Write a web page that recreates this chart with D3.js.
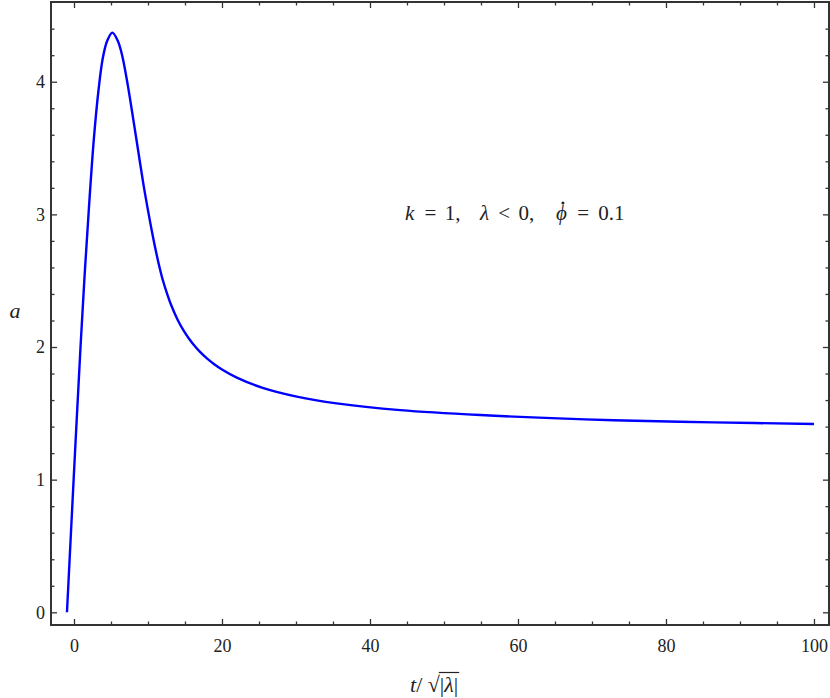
<!DOCTYPE html>
<html>
<head>
<meta charset="utf-8">
<script src="https://cdn.jsdelivr.net/npm/d3@7"></script>
<style>
  html, body { margin: 0; padding: 0; background: #fff; }
  svg { display: block; }
</style>
</head>
<body>
<svg id="chart" width="830" height="698"></svg>
<script>
// ---- data ----
const tValues = [-0.95, -0.05, 0.88, 1.5, 2.1, 2.7, 3.3, 3.9, 4.5, 5.18, 5.9, 6.5, 7.25, 8.0, 8.7, 9.4, 10.0, 10.5, 11.0, 11.5, 12.0, 12.6, 13.1, 14.0, 14.8, 15.5, 16.2, 17.0, 18.0, 19.0, 20.0, 22.0, 25.6, 30.1, 35.5, 44.1, 54.9, 72.9, 86.4, 100];
const aValues = [0, 1.0, 2.0, 2.6, 3.12, 3.58, 3.93, 4.18, 4.31, 4.37, 4.31, 4.2, 3.98, 3.72, 3.47, 3.22, 3.03, 2.88, 2.74, 2.615, 2.505, 2.398, 2.32, 2.206, 2.125, 2.066, 2.015, 1.965, 1.912, 1.868, 1.83, 1.769, 1.69, 1.626, 1.575, 1.524, 1.487, 1.448, 1.432, 1.42];
const xMajorTicks = [0, 20, 40, 60, 80, 100];
const xMinorTicks = [5, 10, 15, 25, 30, 35, 45, 50, 55, 65, 70, 75, 85, 90, 95];
const yMajorTicks = [0, 1, 2, 3, 4];
const yMinorTicks = [0.2, 0.4, 0.6, 0.8, 1.2, 1.4, 1.6, 1.8, 2.2, 2.4, 2.6, 2.8, 3.2, 3.4, 3.6, 3.8, 4.2, 4.4];
const xDomain = [-3.108, 102.03];
const yDomain = [-0.0957, 4.601];

(function () {
const FONT = "'Liberation Serif', 'DejaVu Serif', serif";
const svg = d3.select("#chart");
const pLeft = 51, pRight = 829, pTop = 2, pBottom = 625;

const x = d3.scaleLinear().domain(xDomain).range([pLeft, pRight]);
const y = d3.scaleLinear().domain(yDomain).range([pBottom, pTop]);

const points = tValues.map((t, i) => ({ t, a: aValues[i] }));

const line = d3.line().x(d => x(d.t)).y(d => y(d.a)).curve(d3.curveCatmullRom.alpha(0.5));
svg.append("path")
  .datum(points)
  .attr("d", line)
  .attr("fill", "none")
  .attr("stroke", "#0000ff")
  .attr("stroke-width", 2.4)
  .attr("stroke-linejoin", "round");

function styleAxis(g) {
  g.attr("font-family", FONT).attr("font-size", 18);
  g.select(".domain").remove();
  g.selectAll(".tick line").attr("stroke", "#333").attr("stroke-width", 1.3);
  g.selectAll(".tick text").style("font-family", FONT).style("font-size", "18px").attr("fill", "#222");
}

const majorLen = 6, minorLen = 3.5;

svg.append("g").attr("transform", `translate(0,${pBottom})`)
  .call(d3.axisBottom(x).tickValues(xMajorTicks).tickSize(-majorLen).tickPadding(14).tickFormat(d3.format("d")))
  .call(styleAxis);
svg.append("g").attr("transform", `translate(0,${pBottom})`)
  .call(d3.axisBottom(x).tickValues(xMinorTicks).tickSize(-minorLen).tickFormat(""))
  .call(styleAxis);
svg.append("g").attr("transform", `translate(0,${pTop})`)
  .call(d3.axisTop(x).tickValues(xMajorTicks).tickSize(-majorLen).tickFormat(""))
  .call(styleAxis);
svg.append("g").attr("transform", `translate(0,${pTop})`)
  .call(d3.axisTop(x).tickValues(xMinorTicks).tickSize(-minorLen).tickFormat(""))
  .call(styleAxis);
svg.append("g").attr("transform", `translate(${pLeft},0)`)
  .call(d3.axisLeft(y).tickValues(yMajorTicks).tickSize(-majorLen).tickPadding(6).tickFormat(d3.format("d")))
  .call(styleAxis);
svg.append("g").attr("transform", `translate(${pLeft},0)`)
  .call(d3.axisLeft(y).tickValues(yMinorTicks).tickSize(-minorLen).tickFormat(""))
  .call(styleAxis);
svg.append("g").attr("transform", `translate(${pRight},0)`)
  .call(d3.axisRight(y).tickValues(yMajorTicks).tickSize(-majorLen).tickFormat(""))
  .call(styleAxis);
svg.append("g").attr("transform", `translate(${pRight},0)`)
  .call(d3.axisRight(y).tickValues(yMinorTicks).tickSize(-minorLen).tickFormat(""))
  .call(styleAxis);

svg.append("rect")
  .attr("x", pLeft).attr("y", pTop)
  .attr("width", pRight - pLeft).attr("height", pBottom - pTop)
  .attr("fill", "none").attr("stroke", "#333").attr("stroke-width", 2);

// y label
svg.append("text")
  .attr("x", 15).attr("y", 318)
  .attr("text-anchor", "middle")
  .style("font-family", FONT)
  .style("font-size", "22px").style("font-style", "italic").attr("fill", "#222")
  .text("a");

// x label: t/ sqrt(|λ|)
const xl = svg.append("text").attr("y", 692).style("font-family", FONT).style("font-size", "22px").attr("fill", "#222");
xl.append("tspan").attr("x", 410).style("font-style", "italic").text("t");
xl.append("tspan").text("/ ");
xl.append("tspan").text("√");
const inner = xl.append("tspan").text("|");
xl.append("tspan").style("font-style", "italic").text("λ");
xl.append("tspan").text("|");
const bb = xl.node().getBBox();
let ovStart = 441;
try { ovStart = inner.node().getStartPositionOfChar(0).x; } catch (e) {}
svg.append("line")
  .attr("x1", ovStart - 1).attr("x2", bb.x + bb.width + 1)
  .attr("y1", 672.5).attr("y2", 672.5)
  .attr("stroke", "#222").attr("stroke-width", 1.2);

// annotation
const ann = svg.append("text").attr("y", 220).style("font-family", FONT).style("font-size", "21px").attr("fill", "#222");
ann.append("tspan").attr("x", 405).style("font-style", "italic").text("k");
ann.append("tspan").attr("dx", 5).text(" = ");
ann.append("tspan").attr("dx", 3).text("1,");
ann.append("tspan").attr("x", 480).style("font-style", "italic").text("λ");
ann.append("tspan").attr("dx", 4).text(" < ");
ann.append("tspan").attr("dx", 3).text("0,");
const phi = ann.append("tspan").attr("x", 556).style("font-style", "italic").text("ϕ");
ann.append("tspan").attr("dx", 5).text(" = ");
ann.append("tspan").attr("dx", 4).text("0.1");
let phiX = 561;
try {
  const s = phi.node().getStartPositionOfChar(0).x, e = phi.node().getEndPositionOfChar(0).x;
  phiX = (s + e) / 2 + 1.5;
} catch (e) {}
svg.append("circle").attr("cx", phiX).attr("cy", 203).attr("r", 1.5).attr("fill", "#222");
})();
</script>
</body>
</html>
